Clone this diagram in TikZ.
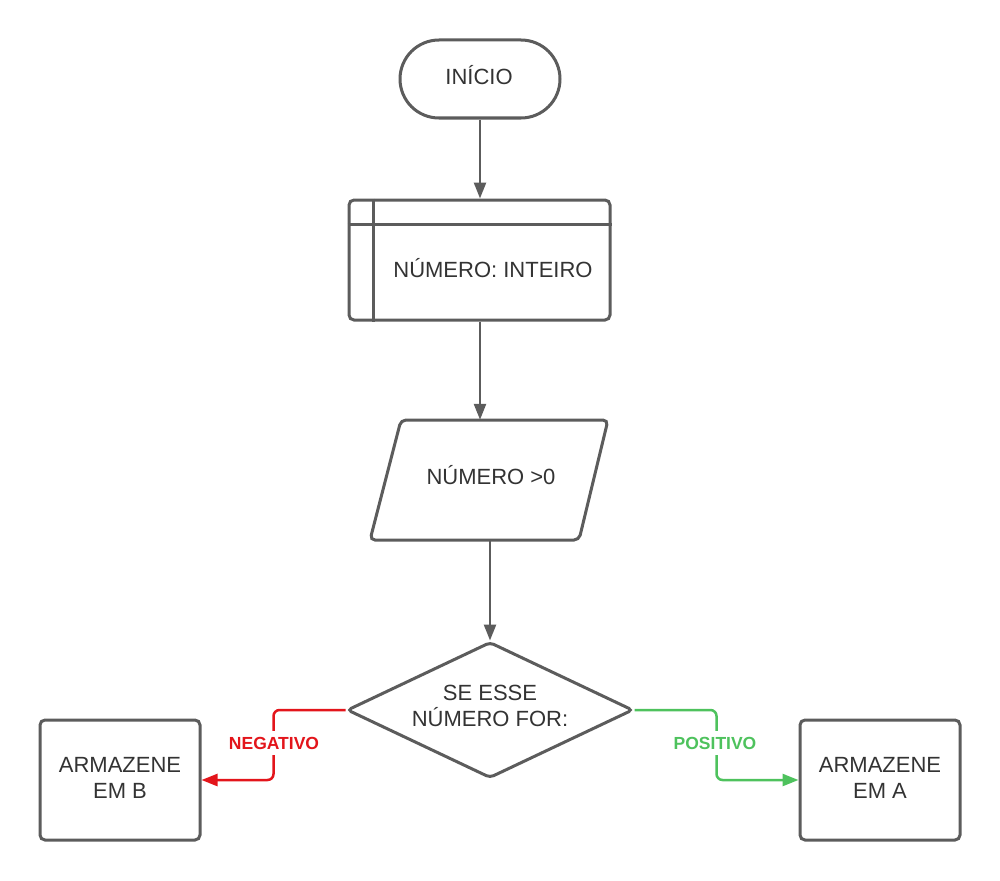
\documentclass[tikz,border=0pt]{standalone}
\usepackage{fontspec}
\setmainfont{Liberation Sans}
\usetikzlibrary{arrows.meta,shapes.geometric}
\definecolor{ln}{HTML}{5C5C5C}
\definecolor{txt}{HTML}{333333}
\definecolor{negc}{HTML}{E3151B}
\definecolor{posc}{HTML}{4EC25D}
\begin{document}
\begin{tikzpicture}[x=1pt,y=-1pt,
  shapebox/.style={draw=ln, line width=3pt, fill=white, inner sep=0pt},
  lbl/.style={text=txt, font=\fontsize{22}{26}\selectfont, anchor=base, inner sep=0pt},
  flow/.style={draw=ln, line width=2.5pt, -{Triangle[length=16pt,width=12pt]}},
  negflow/.style={draw=negc, line width=2.5pt, rounded corners=6pt, -{Triangle[length=16pt,width=12pt]}},
  posflow/.style={draw=posc, line width=2.5pt, rounded corners=6pt, -{Triangle[length=16pt,width=12pt]}},
  blabel/.style={font=\fontsize{17.5}{20}\selectfont\bfseries, fill=white, inner xsep=1pt, inner ysep=6pt}
]
\useasboundingbox (0,0) rectangle (1000,880);

% start
\node[shapebox, rounded corners=39pt, minimum width=160pt, minimum height=78pt] (start) at (480,79) {};
\node[lbl] (starttxt) at (479,85) {INÍCIO};

% internal storage
\node[shapebox, rounded corners=5pt, minimum width=261pt, minimum height=120pt] (store) at (479.5,260) {};
\draw[ln, line width=3pt] ([yshift=-26pt]store.north west) -- ([yshift=-26pt]store.north east);
\draw[ln, line width=3pt] ([xshift=26pt]store.north west) -- ([xshift=26pt]store.south west);
\node[lbl] (storetxt) at (493,277) {NÚMERO: INTEIRO};

% parallelogram
\draw[ln, line width=3pt, fill=white, rounded corners=5pt] (401,420) -- (608,420) -- (579,540) -- (370,540) -- cycle;
\node[inner sep=0pt, minimum width=238pt, minimum height=120pt] (para) at (490,480) {};
\node[lbl] (paratxt) at (491,484) {NÚMERO >0};

% decision
\node[shapebox, diamond, rounded corners=4pt, minimum width=286pt, minimum height=136pt] (dec) at (490,710) {};
\node[lbl] (dectxt1) at (490,700) {SE ESSE};
\node[lbl] (dectxt2) at (490,726) {NÚMERO FOR:};

% outputs
\node[shapebox, rounded corners=5pt, minimum width=160pt, minimum height=120pt] (boxB) at (120,780) {};
\node[lbl] (btxt1) at (120,772) {ARMAZENE};
\node[lbl] (btxt2) at (120,798) {EM B};
\node[shapebox, rounded corners=5pt, minimum width=160pt, minimum height=120pt] (boxA) at (880,780) {};
\node[lbl] (atxt1) at (880,772) {ARMAZENE};
\node[lbl] (atxt2) at (880,798) {EM A};

% connectors
\draw[flow] (start.south) -- (start.south |- store.north);
\draw[flow] (start.south |- store.south) -- (start.south |- para.north);
\draw[flow] (para.south) -- (dec.north);
\draw[negflow] (dec.west) -- ++(-72,0) |- (boxB.east);
\draw[posflow] (dec.east) -- ++(82,0) |- (boxA.west);

\node[blabel, text=negc] (neg) at (274,743) {NEGATIVO};
\node[blabel, text=posc] (pos) at (715,743) {POSITIVO};
\end{tikzpicture}
\end{document}
